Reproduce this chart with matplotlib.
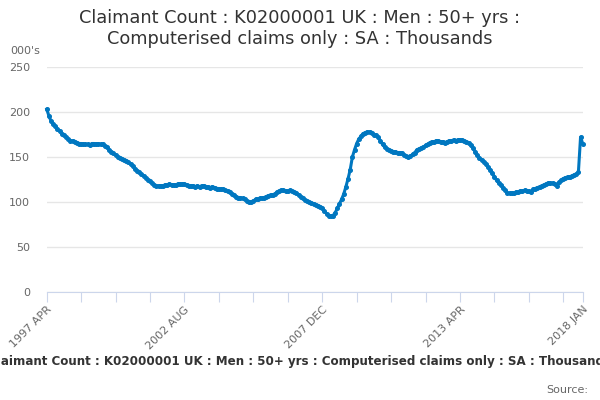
import numpy as np
import matplotlib
matplotlib.use('Agg')
import matplotlib.pyplot as plt

# monthly values, 1997 APR .. 2018 JAN (thousands)
y1997 = [203, 196, 190, 187, 184, 181, 179, 176, 174]
y1998 = [172, 170, 168, 168, 167, 166, 165, 165, 164, 164, 164, 163]
y1999 = [165, 165, 164, 165, 164, 164, 162, 161, 158, 156, 154, 152]
y2000 = [150, 149, 148, 147, 146, 144, 142, 140, 137, 135, 133, 131]
y2001 = [129, 127, 125, 123, 121, 119, 118, 118, 118, 118, 119, 119]
y2002 = [120, 119, 119, 119, 120, 120, 120, 120, 119, 118, 118, 118]
y2003 = [117, 118, 117, 118, 118, 117, 117, 116, 117, 116, 115, 115]
y2004 = [114, 114, 113, 112, 111, 109, 108, 106, 105, 105, 104, 103]
y2005 = [101, 100, 100, 101, 103, 103, 104, 104, 105, 106, 107, 108]
y2006 = [108, 109, 111, 112, 113, 113, 112, 112, 113, 112, 111, 110]
y2007 = [108, 106, 104, 102, 101, 100, 99, 98, 97, 96, 95, 93]
y2008 = [90, 87, 85, 84, 85, 88, 93, 98, 103, 109, 117, 126]
y2009 = [136, 150, 158, 165, 170, 173, 176, 177, 178, 178, 177, 175]
y2010 = [174, 172, 168, 164, 161, 159, 158, 157, 156, 156, 155, 155]
y2011 = [154, 152, 151, 150, 151, 153, 155, 158, 159, 160, 161, 163]
y2012 = [164, 166, 167, 167, 168, 168, 167, 167, 166, 167, 168, 168]
y2013 = [169, 168, 169, 169, 169, 168, 167, 166, 163, 160, 156, 152]
y2014 = [149, 147, 145, 142, 139, 136, 132, 128, 124, 121, 119, 116]
y2015 = [113, 110, 110, 110, 110, 111, 111, 112, 112, 113, 112, 112]
y2016 = [111, 114, 115, 116, 117, 118, 119, 120, 121, 121, 121, 120]
y2017 = [118, 122, 124, 126, 127, 128, 128, 129, 130, 131, 133, 172]
y2018 = [165]

values = (y1997 + y1998 + y1999 + y2000 + y2001 + y2002 + y2003 + y2004 + y2005
          + y2006 + y2007 + y2008 + y2009 + y2010 + y2011 + y2012 + y2013
          + y2014 + y2015 + y2016 + y2017 + y2018)

tick_labels = ['1997 APR', '2002 AUG', '2007 DEC', '2013 APR', '2018 JAN']
title = 'Claimant Count : K02000001 UK : Men : 50+ yrs :\nComputerised claims only : SA : Thousands'
caption = 'Claimant Count : K02000001 UK : Men : 50+ yrs : Computerised claims only : SA : Thousands'

x = np.arange(len(values))
n = len(values) - 1

fig = plt.figure(figsize=(6, 4), dpi=100)
ax = fig.add_axes([46.7 / 600, 1 - 292 / 400, 536 / 600, 225 / 400])

ax.plot(x, values, color='#0077c0', lw=2.2, marker='o', ms=2.6,
        mec='#0077c0', mfc='#0077c0', clip_on=False, zorder=3)

ax.set_xlim(0, n)
ax.set_ylim(0, 250)
ax.set_yticks([0, 50, 100, 150, 200, 250])
ax.grid(axis='y', color='#e6e6e6', lw=1)
ax.set_axisbelow(True)

minor = list(range(0, n, 16)) + [n]
ax.set_xticks(minor)
lab_pos = [0, 64, 128, 192, n]
ax.set_xticklabels([tick_labels[lab_pos.index(m)] if m in lab_pos else '' for m in minor],
                   rotation=45, ha='right', rotation_mode='anchor')

for s in ['top', 'right', 'left']:
    ax.spines[s].set_visible(False)
ax.spines['bottom'].set_color('#ccd6eb')
ax.tick_params(axis='x', length=7, color='#ccd6eb', labelsize=8, labelcolor='#666666', pad=2)
ax.tick_params(axis='y', length=0, labelsize=8, labelcolor='#666666', pad=12)

fig.text(0.5, 1 - 28.5 / 400, title, ha='center', va='center', fontsize=12.8,
         color='#333333', linespacing=1.25)
fig.text(10 / 600, 1 - 51 / 400, "000's", ha='left', va='center', fontsize=8, color='#666666')
fig.text(0.5, 1 - 361 / 400, caption, ha='center', va='center', fontsize=8.6,
         fontweight='bold', color='#333333')
fig.text(588 / 600, 1 - 390 / 400, 'Source:', ha='right', va='center', fontsize=8,
         color='#666666')

fig.savefig('out.png', dpi=100)
